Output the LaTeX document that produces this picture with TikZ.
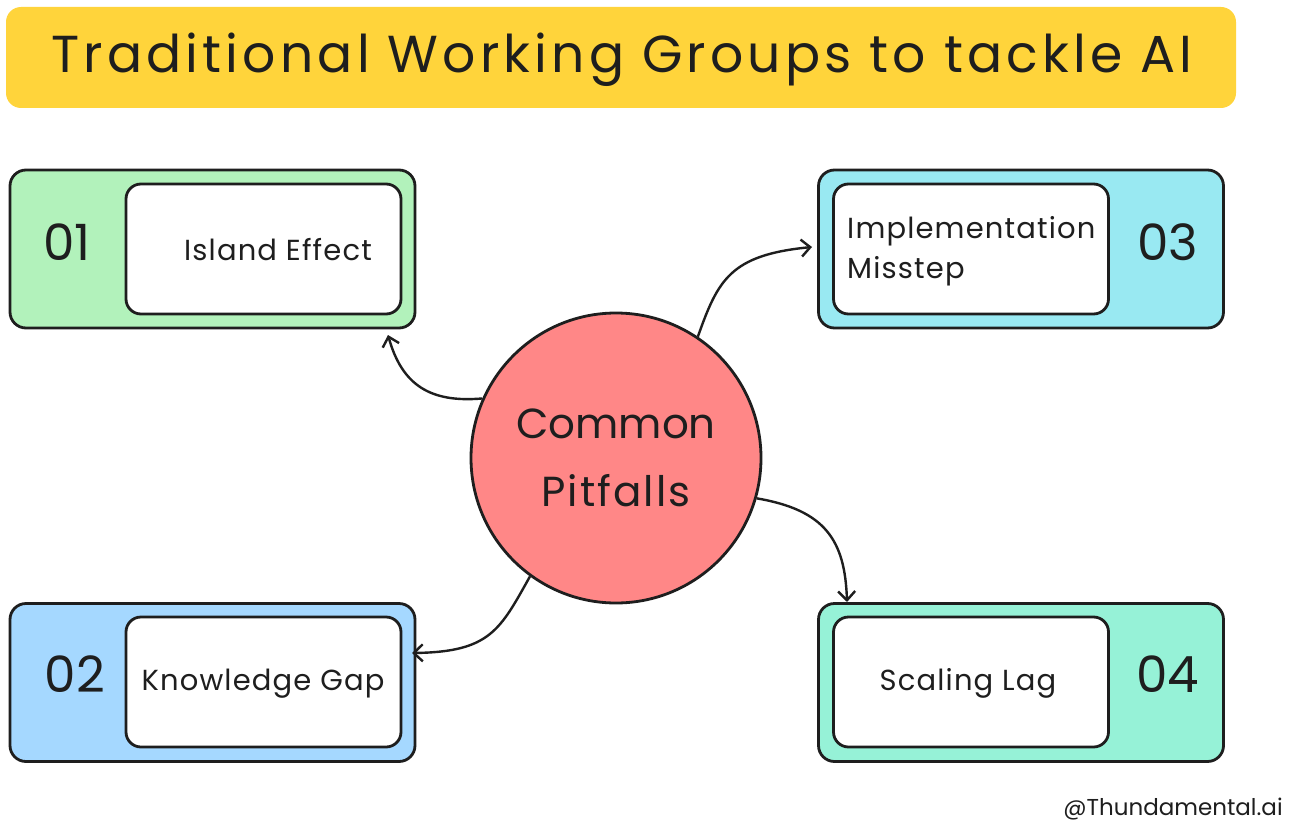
\documentclass[tikz,border=0pt]{standalone}
\usepackage{fontspec}
\setmainfont{Poppins}
\usetikzlibrary{arrows.meta}
\definecolor{ink}{HTML}{1E1E1E}
\definecolor{banner}{HTML}{FFD43B}
\definecolor{cgreen}{HTML}{B2F2BB}
\definecolor{ccyan}{HTML}{99E9F2}
\definecolor{cblue}{HTML}{A5D8FF}
\definecolor{cteal}{HTML}{96F2D7}
\definecolor{cred}{HTML}{FF8787}
\tikzset{
  outerbox/.style={draw=ink, line width=2.8pt, rounded corners=16pt, minimum width=405pt, minimum height=158pt, inner sep=0pt},
  innerbox/.style={draw=ink, fill=white, line width=2.8pt, rounded corners=15pt, minimum width=275pt, minimum height=130pt, inner sep=0pt},
  numtxt/.style={anchor=base, text=ink, font=\fontsize{50}{54}\selectfont, inner sep=0pt},
  lbltxt/.style={anchor=base, text=ink, font=\fontsize{29}{34}\selectfont\addfontfeature{LetterSpace=4}, inner sep=0pt},
  conn/.style={draw=ink, line width=2.4pt, -{Straight Barb[length=9pt,width=17pt]}},
}
\begin{document}
\begin{tikzpicture}[x=1pt,y=-1pt]
\useasboundingbox (0,0) rectangle (1292,832);
\fill[white] (0,0) rectangle (1292,832);
% banner
\node[fill=banner, rounded corners=15pt, minimum width=1230pt, minimum height=101pt, inner sep=0pt] (banner) at (621,57.5) {};
\node[anchor=base, text=ink, font=\fontsize{52}{56}\selectfont\addfontfeature{LetterSpace=8}, inner sep=0pt] (title) at (622,73) {Traditional Working Groups to tackle AI};
% boxes
\node[outerbox, fill=cgreen] (b1) at (212.5,249) {};
\node[innerbox] (i1) at (263.5,249) {};
\node[numtxt] (n1) at (67,260) {01};
\node[lbltxt] (t1) at (278,260) {Island Effect};

\node[outerbox, fill=ccyan] (b3) at (1021,249) {};
\node[innerbox] (i3) at (971,249) {};
\node[numtxt] (n3) at (1168,260) {03};
\node[lbltxt, anchor=base west] (t3a) at (847,238) {Implementation};
\node[lbltxt, anchor=base west] (t3b) at (847,278) {Misstep};

\node[outerbox, fill=cblue] (b2) at (212.5,682.5) {};
\node[innerbox] (i2) at (263.5,682) {};
\node[numtxt] (n2) at (75,692) {02};
\node[lbltxt] (t2) at (263,690) {Knowledge Gap};

\node[outerbox, fill=cteal] (b4) at (1021,682.5) {};
\node[innerbox] (i4) at (971,682) {};
\node[numtxt] (n4) at (1168,692) {04};
\node[lbltxt] (t4) at (968,690) {Scaling Lag};
% circle
\node[circle, draw=ink, fill=cred, line width=2.8pt, minimum size=290pt, inner sep=0pt] (c) at (616,458) {};
\node[anchor=base, text=ink, font=\fontsize{42}{48}\selectfont, inner sep=0pt] (ct1) at (616,438) {Common};
\node[anchor=base, text=ink, font=\fontsize{42}{48}\selectfont\addfontfeature{LetterSpace=5}, inner sep=0pt] (ct2) at (616,506) {Pitfalls};
% arrow ends
\coordinate (e1) at (388,335);
\coordinate (e3) at (812,247);
\coordinate (e4) at (847,602);
\coordinate (e2) at (412,653);
\draw[conn] (c.156) .. controls (430,403) and (402,385) .. (e1);
\draw[conn] (c.56) .. controls (718,280) and (730,255) .. (e3);
\draw[conn] (c.344.6) .. controls (825,510) and (845,540) .. (e4);
\draw[conn] (c.234.7) .. controls (500,630) and (490,652) .. (e2);
% watermark
\node[anchor=base, text=ink, font=\fontsize{23}{26}\selectfont, inner sep=0pt] (wm) at (1173,815) {@Thundamental.ai};
\end{tikzpicture}
\end{document}
